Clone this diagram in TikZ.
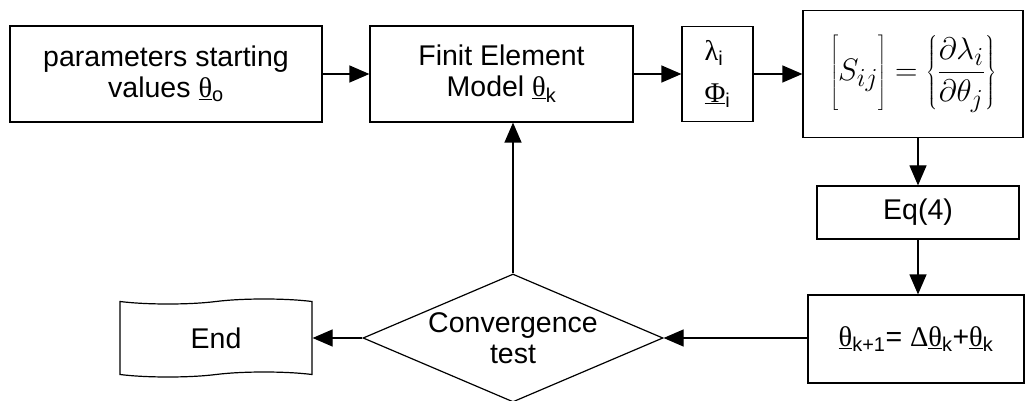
\documentclass[tikz,border=0pt]{standalone}
\usepackage{fontspec}
\usepackage{graphicx}
\setmainfont{Liberation Sans}
\newfontfamily\grk{Liberation Serif}
\usetikzlibrary{arrows.meta,shapes.geometric,shapes.symbols}

% underlined parameter vector with a subscript
\newcommand{\uvec}[2]{\underline{{\grk #1}}\textsubscript{#2}}

\begin{document}
\begin{tikzpicture}[
    x=1pt, y=-1pt,
    font=\fontsize{28.5}{31}\selectfont,
    block/.style={rectangle, draw, line width=1.2pt, align=center, inner sep=0pt}, % Прямоугольные блоки
    test/.style={diamond, draw, line width=1.2pt, align=center, inner sep=0pt,
                 aspect=2.34, minimum width=300pt, minimum height=128pt}, % Условие
    stop/.style={tape, draw, line width=1.2pt, inner sep=0pt,
                 minimum width=192pt, minimum height=78pt}, % Конец
    flow/.style={line width=1.2pt, -{Triangle[length=20pt,width=17pt]}} % Стрелки
]
    \useasboundingbox (0,0) rectangle (1026,401);

    % Верхний ряд
    \node[block, minimum width=312pt, minimum height=96pt] (start) at (166,74)
        {parameters starting\\values \uvec{θ}{o}};
    \node[block, minimum width=263pt, minimum height=96pt] (fem) at (501.5,74)
        {Finit Element\\Model \uvec{θ}{k}};
    \node[block, minimum width=71pt, minimum height=95pt, align=left] (eig) at (717.5,74)
        {{\grk λ}\textsubscript{i}\\[11pt]\uvec{Φ}{i}};
    \node[block, minimum width=220pt, minimum height=127pt] (sens) at (913,74)
        {\scalebox{1.25}{$\displaystyle\left[\vphantom{\frac{\partial\lambda_i}{\partial\theta_j}} S_{ij} \right] = \left\{ \frac{\partial\lambda_i}{\partial\theta_j} \right\}$}};

    % Правая колонка
    \node[block, minimum width=202pt, minimum height=53pt] (eq) at (918,212.5) {Eq(4)};
    \node[block, minimum width=216pt, minimum height=88pt] (upd) at (916,339)
        {\uvec{θ}{k+1}= {\grk Δ}\uvec{θ}{k}+\uvec{θ}{k}};

    % Нижний ряд
    \node[test] (conv) at (513,338) {Convergence\\test};
    \node[stop] (end) at (216,338) {End};

    % Стрелки
    \draw[flow] (start) -- (fem);
    \draw[flow] (fem) -- (eig);
    \draw[flow] (eig) -- (sens);
    \draw[flow] (eq.north |- sens.south) -- (eq.north);
    \draw[flow] (eq.south) -- (eq.south |- upd.north);
    \draw[flow] (upd.west |- conv.east) -- (conv.east);
    \draw[flow] (conv.west) -- (end.east);
    \draw[flow] (conv.north) -- (conv.north |- fem.south);

\end{tikzpicture}
\end{document}
